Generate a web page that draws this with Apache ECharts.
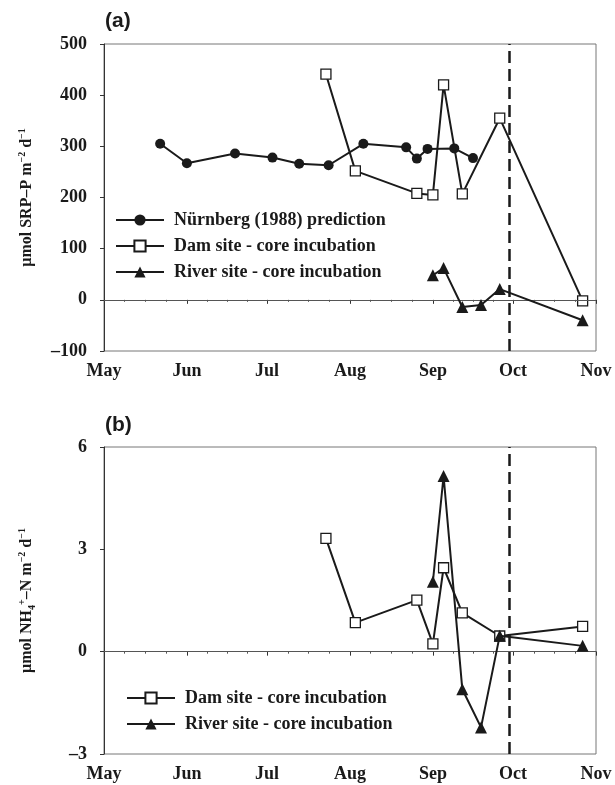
<!DOCTYPE html>
<html>
<head>
<meta charset="utf-8">
<script src="https://cdn.jsdelivr.net/npm/echarts@6/dist/echarts.min.js"></script>
<style>
html,body{margin:0;padding:0;background:#fff;}
#chart{width:615px;height:785px;}
</style>
</head>
<body>
<div id="chart"></div>
<script>
// ---------- data ----------
var monthLabels = ['Jan','Feb','Mar','Apr','May','Jun','Jul','Aug','Sep','Oct','Nov','Dec'];

var nurnbergDates  = ['2005-05-22','2005-06-01','2005-06-19','2005-07-03','2005-07-13','2005-07-24','2005-08-06','2005-08-22','2005-08-26','2005-08-30','2005-09-09','2005-09-16'];
var nurnbergSRP    = [305, 267, 286, 278, 266, 263, 305, 298, 276, 295, 296, 277];

var damDates   = ['2005-07-23','2005-08-03','2005-08-26','2005-09-01','2005-09-05','2005-09-12','2005-09-26','2005-10-27'];
var damSRP     = [441, 252, 208, 205, 420, 207, 355, -2];
var damNH4     = [3.32, 0.85, 1.51, 0.23, 2.46, 1.14, 0.46, 0.74];

var riverDates = ['2005-09-01','2005-09-05','2005-09-12','2005-09-19','2005-09-26','2005-10-27'];
var riverSRP   = [48, 62, -14, -10, 21, -40];
var riverNH4   = [2.05, 5.15, -1.10, -2.22, 0.47, 0.17];

var dashedDate = '2005-09-29 12:00';
var srpTicks = {min: -100, max: 500, interval: 100};
var nh4Ticks = {min: -3, max: 6, interval: 3};

var nameNurnberg = 'Nürnberg (1988) prediction';
var nameDam = 'Dam site - core incubation';
var nameRiver = 'River site - core incubation';

// ---------- helpers ----------
function pairs(d, v){ return d.map(function(x,i){ return [x, v[i]]; }); }
var serif = '"Liberation Serif","Times New Roman",serif';
var sans = '"Liberation Sans",Arial,sans-serif';
var ink = '#1a1a1a';

function xAxisCfg(gi){
  return {
    type: 'time', gridIndex: gi,
    min: '2005-05-01', max: '2005-11-01',
    splitNumber: 6, minInterval: 28*86400000, maxInterval: 31*86400000,
    axisLine: {show: true, lineStyle: {color: '#333', width: 1}},
    axisTick: {show: true, length: 4, lineStyle: {color: '#333'}},
    minorTick: {show: true, splitNumber: 4, length: 2, lineStyle: {color: '#555'}},
    splitLine: {show: false},
    axisLabel: {
      color: ink, fontFamily: serif, fontWeight: 'bold', fontSize: 18, margin: 11,
      hideOverlap: false, showMinLabel: true, showMaxLabel: true,
      formatter: function(v){ return monthLabels[new Date(v).getMonth()]; }
    }
  };
}
function yAxisCfg(gi, t, nameRich){
  return {
    type: 'value', gridIndex: gi, min: t.min, max: t.max, interval: t.interval,
    axisLine: {show: true, lineStyle: {color: '#333', width: 1}},
    axisTick: {show: true, length: 4, lineStyle: {color: '#333'}},
    splitLine: {show: false},
    axisLabel: {
      color: ink, fontFamily: serif, fontWeight: 'bold', fontSize: 18, margin: 17,
      formatter: function(v){ return String(v).replace('-', '\u2013'); }
    },
    name: nameRich, nameLocation: 'middle', nameRotate: 90, nameGap: 67,
    nameTextStyle: {
      color: ink, fontFamily: serif, fontWeight: 'bold', fontSize: 16, lineHeight: 20,
      rich: {
        sup: {fontFamily: serif, fontWeight: 'bold', fontSize: 10, color: ink, verticalAlign: 'top', lineHeight: 20},
        sub: {fontFamily: serif, fontWeight: 'bold', fontSize: 10, color: ink, verticalAlign: 'bottom', lineHeight: 20}
      }
    }
  };
}

var lineBase = {type: 'line', lineStyle: {color: ink, width: 2}, z: 3};
function circleSeries(name, gi, data){
  return Object.assign({}, lineBase, {name: name, xAxisIndex: gi, yAxisIndex: gi, data: data,
    symbol: 'circle', symbolSize: 10, itemStyle: {color: ink, borderColor: ink, borderWidth: 0}});
}
function squareSeries(name, gi, data, withMarks){
  var s = Object.assign({}, lineBase, {name: name, xAxisIndex: gi, yAxisIndex: gi, data: data,
    symbol: 'rect', symbolSize: 10, itemStyle: {color: '#fff', borderColor: ink, borderWidth: 1.3}, z: 4});
  if (withMarks){
    s.markLine = {
      silent: true, symbol: 'none', label: {show: false}, animation: false,
      data: [
        {yAxis: 0, lineStyle: {color: '#555', width: 1, type: 'solid'}},
        {xAxis: dashedDate, lineStyle: {color: ink, width: 2.5, type: [12, 6]}}
      ]
    };
  }
  return s;
}
function triSeries(name, gi, data){
  return Object.assign({}, lineBase, {name: name, xAxisIndex: gi, yAxisIndex: gi, data: data,
    symbol: 'triangle', symbolSize: 12, itemStyle: {color: ink, borderColor: ink, borderWidth: 0}, z: 5});
}

var legendText = {color: ink, fontFamily: serif, fontWeight: 'bold', fontSize: 18, lineHeight: 18, padding: [0,0,0,5]};

var option = {
  animation: false,
  backgroundColor: '#fff',
  title: [
    {text: '(a)', left: 100, top: 6, textStyle: {fontFamily: sans, fontWeight: 'bold', fontSize: 21, color: ink}},
    {text: '(b)', left: 100, top: 410, textStyle: {fontFamily: sans, fontWeight: 'bold', fontSize: 21, color: ink}}
  ],
  grid: [
    {left: 104, right: 19, top: 44, height: 307, show: true, borderColor: '#777', borderWidth: 1, containLabel: false},
    {left: 104, right: 19, top: 447, height: 307, show: true, borderColor: '#777', borderWidth: 1, containLabel: false}
  ],
  legend: [
    {orient: 'vertical', left: 110, top: 206, itemWidth: 48, itemHeight: 14, itemGap: 8,
     data: [nameNurnberg, nameDam, nameRiver], textStyle: legendText, selectedMode: false},
    {orient: 'vertical', left: 121, top: 684, itemWidth: 48, itemHeight: 14, itemGap: 8,
     data: [nameDam, nameRiver], textStyle: legendText, selectedMode: false}
  ],
  xAxis: [xAxisCfg(0), xAxisCfg(1)],
  yAxis: [
    yAxisCfg(0, srpTicks, '\u00b5mol SRP\u2013P m{sup|\u22122} d{sup|\u22121}'),
    yAxisCfg(1, nh4Ticks, '\u00b5mol NH{sub|4}{sup|+}\u2013N m{sup|\u22122} d{sup|\u22121}')
  ],
  series: [
    circleSeries(nameNurnberg, 0, pairs(nurnbergDates, nurnbergSRP)),
    squareSeries(nameDam, 0, pairs(damDates, damSRP), true),
    triSeries(nameRiver, 0, pairs(riverDates, riverSRP)),
    squareSeries(nameDam, 1, pairs(damDates, damNH4), true),
    triSeries(nameRiver, 1, pairs(riverDates, riverNH4))
  ]
};

var chart = echarts.init(document.getElementById('chart'), null, {renderer: 'canvas'});
chart.setOption(option);
</script>
</body>
</html>
